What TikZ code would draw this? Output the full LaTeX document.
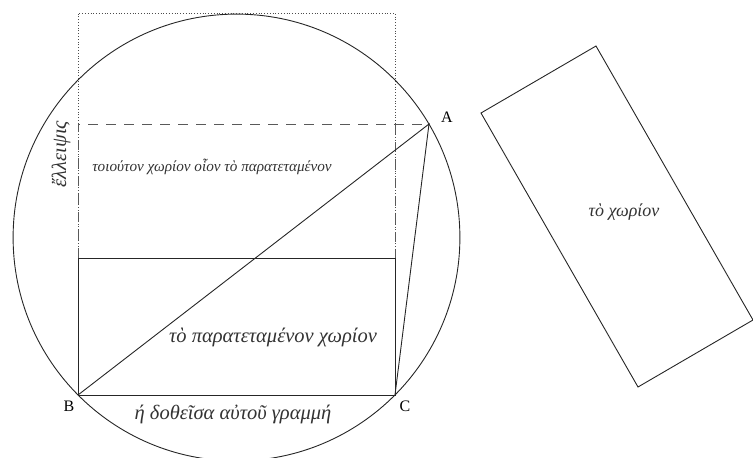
\documentclass[tikz,border=0pt]{standalone}
\usepackage{fontspec}
\setmainfont{Liberation Serif}
\begin{document}
\begin{tikzpicture}[x=1pt,y=-1pt,
  geo/.style={line width=0.9pt,black!85},
  dotrect/.style={line width=0.8pt,black!70,dotted},
  dashrect/.style={line width=0.9pt,black!65,dash pattern=on 10pt off 8pt},
  lettr/.style={font=\fontsize{16}{18}\selectfont,inner sep=0pt},
  bigtxt/.style={font=\fontsize{20.5}{23}\selectfont\itshape,inner sep=0pt,text=black!80},
  midtxt/.style={font=\fontsize{18}{21}\selectfont\itshape,inner sep=0pt,text=black!80},
  smalltxt/.style={font=\fontsize{15.2}{18}\selectfont\itshape,inner sep=0pt,text=black!80}]
\useasboundingbox (0,0) rectangle (753,458);
% points
\coordinate (A) at (429,124);
\coordinate (B) at (78,395);
\coordinate (C) at (395,395);
\coordinate (O) at (236.5,237.5);
\coordinate (P1) at (78,258);
\coordinate (P2) at (395,258);
\coordinate (Q1) at (78,124);
\coordinate (Q2) at (395,124);
\coordinate (T1) at (78,13);
\coordinate (T2) at (395,13);
% circle
\draw[geo] (O) circle[radius=223.4pt];
% dotted rectangle
\draw[dotrect] (P1) -- (T1) -- (T2) -- (P2);
% dashed rectangle
\draw[dashrect] (P1) -- (Q1) -- (A);
\draw[dashrect] (Q2) -- (P2);
% solid rectangle
\draw[geo] (P1) -- (P2) -- (C) -- (B) -- cycle;
% lines
\draw[geo] (B) -- (A) -- (C);
% right rectangle
\coordinate (R1) at (481,113);
\coordinate (R2) at (596,46);
\coordinate (R3) at (753,320);
\coordinate (R4) at (638,387);
\draw[geo] (R1) -- (R2) -- (R3) -- (R4) -- cycle;
% labels
\node[lettr] (lA) at (447,117) {A};
\node[lettr] (lB) at (69,406) {B};
\node[lettr] (lC) at (405,406) {C};
\node[bigtxt] (t1) at (233,414) {ή δοθεῖσα αὐτοῦ γραμμή};
\node[bigtxt] (t2) at (273,337) {τὸ παρατεταμένον χωρίον};
\node[smalltxt] (t3) at (212,167) {τοιούτον χωρίον οἷον τὸ παρατεταμένον};
\node[bigtxt,rotate=90] (t4) at (61,154) {ἔλλειψις};
\node[midtxt] (t5) at (624,212) {τὸ χωρίον};
\end{tikzpicture}
\end{document}
